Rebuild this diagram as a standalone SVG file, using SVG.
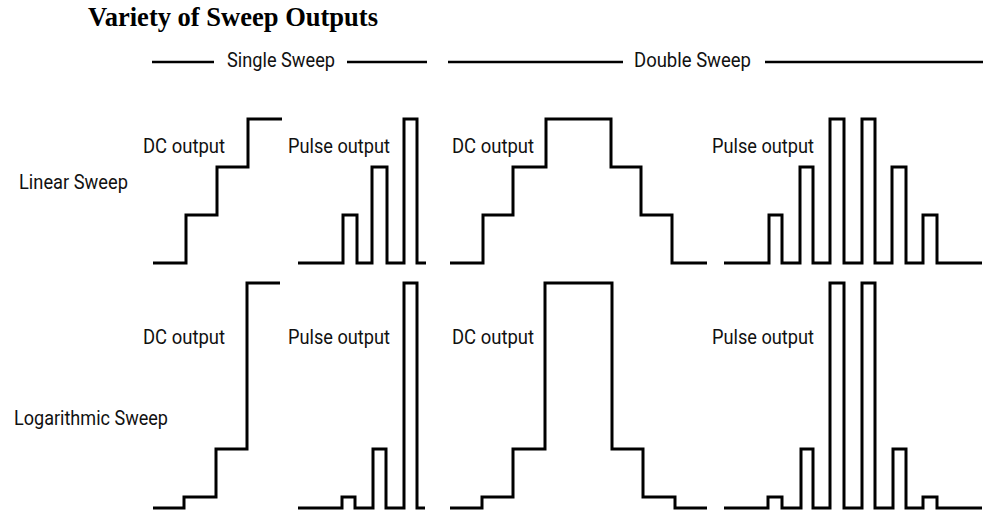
<svg xmlns="http://www.w3.org/2000/svg" width="987" height="511" viewBox="0 0 987 511">
<style>
.w{fill:none;stroke:#000;stroke-width:3;stroke-linejoin:miter;stroke-linecap:butt}
.h{stroke:#000;stroke-width:2.5}
.t{font-family:Roboto,"Liberation Sans",sans-serif;font-size:21px;fill:#111}
.title{font-family:"Liberation Serif","Times New Roman",serif;font-weight:bold;font-size:27px;fill:#000}
</style>
<rect width="987" height="511" fill="#fff"/>
<text class="title" x="88" y="26" textLength="290" lengthAdjust="spacingAndGlyphs">Variety of Sweep Outputs</text>
<g id="headers">
<line class="h" x1="152" y1="62" x2="214" y2="62"/>
<text class="t" x="227" y="67" textLength="108" lengthAdjust="spacingAndGlyphs">Single Sweep</text>
<line class="h" x1="347" y1="62" x2="427" y2="62"/>
<line class="h" x1="448" y1="62" x2="623" y2="62"/>
<text class="t" x="634" y="67" textLength="117" lengthAdjust="spacingAndGlyphs">Double Sweep</text>
<line class="h" x1="765" y1="62" x2="983" y2="62"/>
</g>
<g id="row-labels">
<text class="t" x="19" y="189" textLength="109" lengthAdjust="spacingAndGlyphs">Linear Sweep</text>
<text class="t" x="14" y="425" textLength="154" lengthAdjust="spacingAndGlyphs">Logarithmic Sweep</text>
</g>
<g id="lin-single-dc">
<text class="t" x="143" y="153" textLength="82" lengthAdjust="spacingAndGlyphs">DC output</text>
<polyline class="w" points="153,263 186,263 186,215 217,215 217,167 248,167 248,119 282,119"/>
</g>
<g id="lin-single-pulse">
<text class="t" x="288" y="153" textLength="102" lengthAdjust="spacingAndGlyphs">Pulse output</text>
<polyline class="w" points="298,263 343,263 343,215 357,215 357,263 372,263 372,167 387,167 387,263 404,263 404,119 417,119 417,263 426,263"/>
</g>
<g id="lin-double-dc">
<text class="t" x="452" y="153" textLength="82" lengthAdjust="spacingAndGlyphs">DC output</text>
<polyline class="w" points="450,263 483,263 483,215 513,215 513,167 546,167 546,119 611,119 611,167 641,167 641,215 672,215 672,263 707,263"/>
</g>
<g id="lin-double-pulse">
<text class="t" x="712" y="153" textLength="102" lengthAdjust="spacingAndGlyphs">Pulse output</text>
<polyline class="w" points="724,263 769,263 769,215 782,215 782,263 800,263 800,167 813,167 813,263 830,263 830,119 844,119 844,263 862,263 862,119 875,119 875,263 892,263 892,167 906,167 906,263 923,263 923,215 937,215 937,263 982,263"/>
</g>
<g id="log-single-dc">
<text class="t" x="143" y="344" textLength="82" lengthAdjust="spacingAndGlyphs">DC output</text>
<polyline class="w" points="153,508 184,508 184,497 216,497 216,449 247,449 247,283 280,283"/>
</g>
<g id="log-single-pulse">
<text class="t" x="288" y="344" textLength="102" lengthAdjust="spacingAndGlyphs">Pulse output</text>
<polyline class="w" points="298,508 342,508 342,497 355,497 355,508 373,508 373,449 386,449 386,508 404,508 404,283 417,283 417,508 425,508"/>
</g>
<g id="log-double-dc">
<text class="t" x="452" y="344" textLength="82" lengthAdjust="spacingAndGlyphs">DC output</text>
<polyline class="w" points="450,508 482,508 482,497 513,497 513,449 545,449 545,283 612,283 612,449 643,449 643,497 675,497 675,508 707,508"/>
</g>
<g id="log-double-pulse">
<text class="t" x="712" y="344" textLength="102" lengthAdjust="spacingAndGlyphs">Pulse output</text>
<polyline class="w" points="724,508 768,508 768,497 782,497 782,508 801,508 801,449 813,449 813,508 830,508 830,283 844,283 844,508 862,508 862,283 875,283 875,508 893,508 893,449 906,449 906,508 923,508 923,497 937,497 937,508 982,508"/>
</g>
<g id="connectors"></g>
</svg>
